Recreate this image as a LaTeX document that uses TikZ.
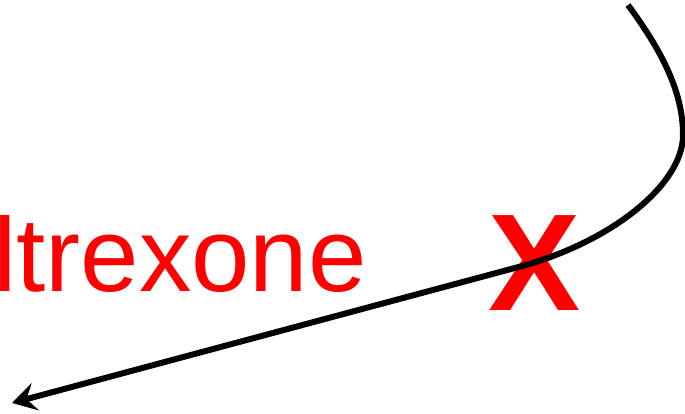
\documentclass[tikz,border=0pt]{standalone}
\usepackage{fontspec}
\setmainfont{Liberation Sans}
\usetikzlibrary{arrows.meta}
\definecolor{alertred}{RGB}{255,0,0}
\tikzset{
  label text/.style={inner sep=0pt, text=alertred, font=\fontsize{105}{110}\selectfont},
  cross mark/.style={inner sep=0pt, text=alertred, font=\bfseries\fontsize{138}{140}\selectfont},
  path curve/.style={line cap=butt, -{Stealth[length=24pt,width=28pt,inset=9pt]}}
}
\begin{document}
\begin{tikzpicture}[x=1pt,y=-1pt]
  \useasboundingbox (0,0) rectangle (685,413);
  \clip (0,0) rectangle (685,413);
  % drug name and the red cross
  \node[label text, anchor=base west] (drug) at (-7,291) {ltrexone};
  \node[cross mark, anchor=base] (cross) at (535,310) {X};
  % pathway arrow
  \coordinate (start) at (628,5);
  \coordinate (bend) at (683,135);
  \coordinate (mid) at (520,266.6);
  \coordinate (tip) at (12,403);
  \draw[path curve, line width=6pt] (start) .. controls (665,55) and (683,95) .. (bend)
    .. controls (683,185) and (610,242.5) .. (mid) -- (tip);
\end{tikzpicture}
\end{document}
